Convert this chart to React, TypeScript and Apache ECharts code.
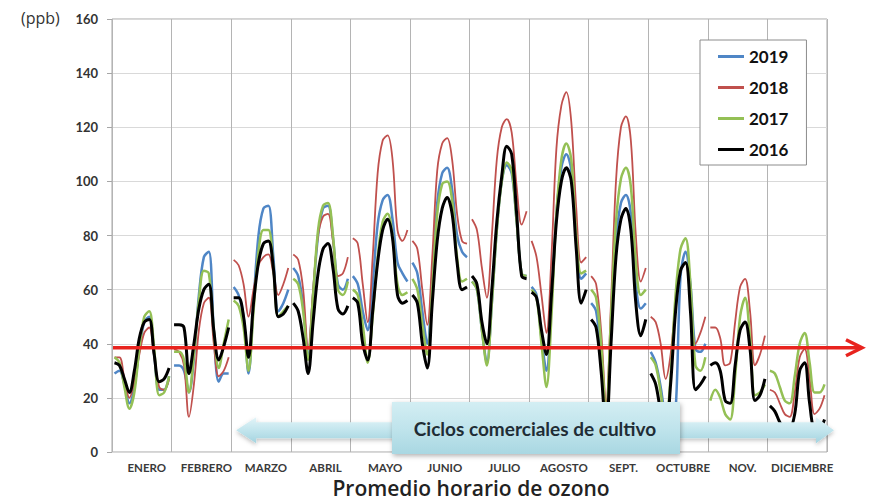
import React, { useEffect, useRef } from "react";
import * as echarts from "echarts";

const MONTHS = ["ENERO", "FEBRERO", "MARZO", "ABRIL", "MAYO", "JUNIO", "JULIO", "AGOSTO", "SEPT.", "OCTUBRE", "NOV.", "DICIEMBRE"];
const HOURS = [1, 3, 5, 7, 9, 11, 13, 15, 17, 19, 21, 23];
const Y_TICKS = { min: 0, max: 160, interval: 20 };
const THRESHOLD = 38.5;

const Y2019: (number[] | null)[] = [
  [29, 30, 25, 18, 24, 38, 48, 50, 36, 23, 23, 28],
  [32, 32, 30, 22, 35, 58, 72, 74, 45, 26, 29, 29],
  [61, 58, 50, 29, 55, 80, 90, 91, 72, 52, 55, 60],
  [68, 65, 54, 35, 58, 80, 90, 91, 79, 62, 60, 64],
  [65, 62, 52, 45, 62, 84, 93, 95, 86, 70, 66, 63],
  [70, 66, 52, 40, 65, 92, 103, 105, 97, 80, 74, 72],
  [63, 60, 45, 33, 55, 82, 100, 106, 103, 85, 66, 65],
  [61, 58, 42, 30, 55, 88, 105, 110, 104, 78, 64, 66],
  [55, 52, 35, 12, 45, 78, 92, 95, 88, 62, 53, 55],
  [37, 33, 24, 12, 6, 15, 65, 74, 62, 38, 37, 40],
  null,
  null,
];
const Y2018: (number[] | null)[] = [
  [35, 35, 27, 20, 26, 36, 44, 46, 35, 24, 23, 27],
  [38, 37, 32, 13, 25, 45, 55, 57, 40, 28, 30, 35],
  [71, 69, 62, 50, 60, 69, 72, 73, 66, 58, 62, 68],
  [73, 71, 60, 38, 60, 80, 87, 88, 78, 65, 66, 72],
  [79, 77, 62, 48, 72, 103, 115, 117, 108, 82, 78, 82],
  [78, 75, 60, 47, 72, 104, 114, 116, 108, 88, 78, 77],
  [86, 82, 68, 57, 80, 108, 120, 123, 118, 98, 84, 89],
  [78, 72, 58, 44, 72, 112, 128, 133, 122, 90, 70, 72],
  [65, 62, 45, 18, 55, 100, 120, 124, 115, 80, 63, 68],
  [50, 48, 40, 27, 36, 55, 67, 70, 55, 40, 44, 50],
  [46, 46, 42, 32, 33, 48, 61, 64, 52, 32, 36, 43],
  [23, 22, 18, 14, 13, 22, 35, 38, 27, 14, 16, 21],
];
const Y2017: (number[] | null)[] = [
  [35, 33, 24, 16, 22, 38, 50, 52, 38, 21, 22, 28],
  [37, 37, 34, 22, 36, 56, 67, 66, 45, 31, 40, 49],
  [56, 54, 46, 30, 52, 74, 82, 82, 68, 50, 52, 54],
  [64, 62, 52, 34, 58, 82, 91, 92, 80, 60, 58, 63],
  [60, 58, 47, 33, 50, 72, 85, 88, 80, 62, 58, 59],
  [64, 60, 47, 36, 60, 88, 99, 100, 93, 72, 63, 64],
  [63, 60, 45, 32, 55, 82, 100, 107, 104, 85, 66, 65],
  [60, 57, 40, 24, 50, 88, 108, 114, 108, 80, 66, 67],
  [60, 57, 40, 14, 50, 85, 101, 105, 98, 70, 58, 60],
  [35, 32, 22, 10, 28, 58, 75, 79, 62, 32, 30, 35],
  [19, 23, 20, 14, 12, 28, 50, 57, 42, 21, 22, 25],
  [30, 29, 24, 19, 18, 28, 40, 44, 33, 22, 22, 25],
];
const Y2016: (number[] | null)[] = [
  [33, 32, 27, 22, 30, 42, 48, 49, 36, 26, 27, 31],
  [47, 47, 46, 29, 40, 53, 60, 62, 45, 34, 39, 46],
  [57, 57, 50, 35, 55, 70, 77, 78, 68, 50, 51, 54],
  [55, 52, 42, 29, 48, 66, 75, 77, 68, 53, 51, 54],
  [57, 55, 40, 34, 52, 70, 82, 86, 79, 58, 55, 56],
  [58, 55, 40, 31, 55, 78, 90, 94, 88, 70, 60, 61],
  [65, 62, 48, 40, 60, 85, 102, 113, 110, 88, 65, 64],
  [59, 57, 45, 36, 58, 85, 100, 105, 100, 75, 55, 60],
  [49, 46, 30, 8, 40, 72, 86, 90, 82, 55, 43, 49],
  [29, 25, 15, 8, 25, 52, 67, 70, 52, 23, 25, 28],
  [32, 33, 30, 19, 18, 32, 45, 48, 38, 19, 21, 27],
  [17, 15, 11, 9, 9, 14, 30, 33, 18, 9, 9, 12],
];

const SERIES = [
  { name: "2019", data: Y2019, color: "#4f86c6", width: 2.5 },
  { name: "2018", data: Y2018, color: "#c0504d", width: 1.8 },
  { name: "2017", data: Y2017, color: "#94c055", width: 2.5 },
  { name: "2016", data: Y2016, color: "#000000", width: 3 },
];

function build(months: (number[] | null)[]) {
  const out: any[] = [];
  months.forEach((vals, m) => {
    if (!vals) return;
    vals.forEach((v, i) => out.push([m + HOURS[i] / 24, v]));
    out.push([m + 1, null]);
  });
  return out;
}

const FONT = "Lato, 'Open Sans', sans-serif";

export default function App() {
  const ref = useRef<HTMLDivElement>(null);
  useEffect(() => {
    if (!ref.current) return;
    const chart = echarts.init(ref.current, undefined, { renderer: "svg" });
    chart.setOption({
      animation: false,
      backgroundColor: "#ffffff",
      grid: { left: 112, right: 43, top: 19, bottom: 48, show: true, borderColor: "#a6a6a6", borderWidth: 1 },
      legend: {
        data: SERIES.map((s) => s.name),
        orient: "vertical",
        left: 700,
        top: 40,
        padding: [7, 18, 6, 18],
        itemGap: 12,
        itemWidth: 26,
        itemHeight: 3,
        icon: "rect",
        backgroundColor: "#ffffff",
        borderColor: "#8c8c8c",
        borderWidth: 1,
        textStyle: { fontFamily: FONT, fontSize: 17, fontWeight: "bold", color: "#111", lineHeight: 19 },
      },
      xAxis: [
        {
          type: "value",
          min: 0,
          max: 12,
          interval: 1,
          axisLabel: { show: false },
          axisTick: { show: false },
          axisLine: { show: false },
          splitLine: { show: true, lineStyle: { color: "#b4b4b4", width: 1 } },
        },
        {
          type: "category",
          data: MONTHS,
          position: "bottom",
          boundaryGap: true,
          axisLine: { show: false },
          axisTick: { show: false },
          splitLine: { show: false },
          axisLabel: {
            interval: 0,
            margin: 9,
            fontFamily: FONT,
            fontSize: 11.5,
            fontWeight: "bold",
            color: "#3a3a3a",
            padding: [0, 0, 0, 10],
          },
        },
      ],
      yAxis: {
        type: "value",
        min: Y_TICKS.min,
        max: Y_TICKS.max,
        interval: Y_TICKS.interval,
        axisLine: { show: false },
        axisTick: { show: true, length: 5, lineStyle: { color: "#a6a6a6" } },
        axisLabel: { margin: 14, fontFamily: FONT, fontSize: 13, fontWeight: "bold", color: "#333" },
        splitLine: { show: true, lineStyle: { color: "#d9d9d9", width: 1 } },
      },
      series: SERIES.map((s) => ({
        name: s.name,
        type: "line",
        xAxisIndex: 0,
        data: build(s.data),
        showSymbol: false,
        smooth: 0.35,
        connectNulls: false,
        color: s.color,
        lineStyle: { color: s.color, width: s.width },
      })),
    });

    const yT = chart.convertToPixel({ yAxisIndex: 0 }, THRESHOLD) as number;
    const x0 = chart.convertToPixel({ xAxisIndex: 0 }, 0) as number;
    const xMar = chart.convertToPixel({ xAxisIndex: 0 }, 2) as number;
    const xEnd = chart.convertToPixel({ xAxisIndex: 0 }, 12) as number;
    const yArrow = chart.convertToPixel({ yAxisIndex: 0 }, 8) as number;

    const arrowGrad = new echarts.graphic.LinearGradient(0, 0, 0, 1, [
      { offset: 0, color: "#e2f4f8" },
      { offset: 0.5, color: "#c2e5ed" },
      { offset: 1, color: "#a3d3df" },
    ]);
    const boxGrad = new echarts.graphic.LinearGradient(0, 0, 0, 1, [
      { offset: 0, color: "#d3eef3" },
      { offset: 0.5, color: "#c0e4ec" },
      { offset: 1, color: "#a9d7e2" },
    ]);
    const lt = xMar + 5;
    const rt = xEnd + 7;
    const h = 8;
    const H = 13;
    chart.setOption({
      graphic: [
        {
          type: "polygon",
          z: 100,
          shape: {
            points: [
              [lt, yArrow],
              [lt + 20, yArrow - H],
              [lt + 20, yArrow - h],
              [rt - 18, yArrow - h],
              [rt - 18, yArrow - H],
              [rt, yArrow],
              [rt - 18, yArrow + H],
              [rt - 18, yArrow + h],
              [lt + 20, yArrow + h],
              [lt + 20, yArrow + H],
            ],
          },
          style: { fill: arrowGrad, shadowBlur: 4, shadowColor: "rgba(0,0,0,0.25)", shadowOffsetY: 2 },
        },
        {
          type: "rect",
          z: 101,
          shape: { x: 392, y: 402, width: 288, height: 52 },
          style: { fill: boxGrad, shadowBlur: 5, shadowColor: "rgba(0,0,0,0.3)", shadowOffsetX: 1, shadowOffsetY: 2 },
        },
        {
          type: "text",
          z: 102,
          x: 535,
          y: 428,
          style: {
            text: "Ciclos comerciales de cultivo",
            fill: "#1f2d36",
            font: `bold 19px ${FONT}`,
            textAlign: "center",
            textVerticalAlign: "middle",
          },
        },
        {
          type: "line",
          z: 103,
          shape: { x1: x0 + 1, y1: yT, x2: 860, y2: yT },
          style: { stroke: "#e8231e", lineWidth: 3.5 },
        },
        {
          type: "polyline",
          z: 103,
          shape: { points: [[846, yT - 8], [862, yT], [846, yT + 8]] },
          style: { stroke: "#e8231e", lineWidth: 3.5, fill: "none", lineJoin: "miter" },
        },
        {
          type: "text",
          z: 100,
          x: 21,
          y: 18,
          style: { text: "(ppb)", fill: "#333", font: `16px 'Open Sans', sans-serif`, textVerticalAlign: "middle" },
        },
        {
          type: "text",
          z: 100,
          x: 471,
          y: 487.5,
          style: {
            text: "Promedio horario de ozono",
            fill: "#222",
            font: `600 21px 'Open Sans', sans-serif`,
            textAlign: "center",
            textVerticalAlign: "middle",
          },
        },
      ],
    });
    return () => chart.dispose();
  }, []);
  return <div ref={ref} style={{ position: "fixed", left: 0, top: 0, width: 870, height: 500 }} />;
}
